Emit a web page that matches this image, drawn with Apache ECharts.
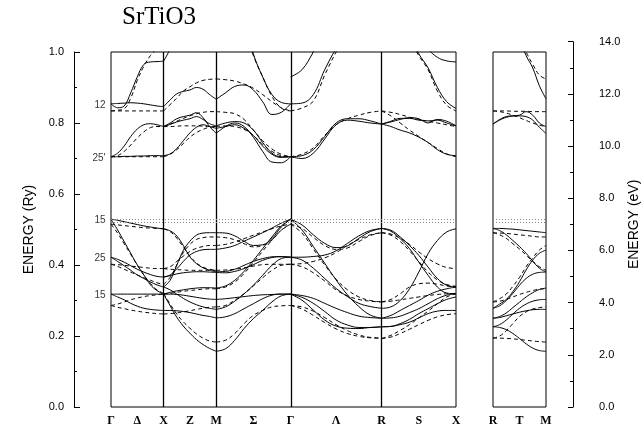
<!DOCTYPE html>
<html>
<head>
<meta charset="utf-8">
<title>SrTiO3</title>
<script src="https://cdn.jsdelivr.net/npm/echarts@6/dist/echarts.min.js"></script>
<style>
  html, body { margin: 0; padding: 0; background: #fff; }
  #chart { width: 643px; height: 429px; }
</style>
</head>
<body>
<div id="chart"></div>
<script>
// k path in units of 2pi/a : G-X-M-G-R-X, then R-T-M in the side panel
var mainTicks = [0, 0.25, 0.5, 0.75, 1.0, 1.3536, 1.7071, 2.1401, 2.5731, 2.9267, 3.2802];
var mainTickNames = ['Γ', 'Δ', 'X', 'Z', 'M', 'Σ', 'Γ', 'Λ', 'R', 'S', 'X'];
var sideTicks = [0, 0.25, 0.5];
var sideTickNames = ['R', 'T', 'M'];
var symLines = [0.5, 1.0, 1.7071, 2.5731];
var gapLines = [0.531, 0.517];
var gammaNames = ['12', "25'", '15', '25', '15'];
var gammaLevels = [0.851, 0.700, 0.527, 0.419, 0.315];

// band energies (Ry), 9 equally spaced samples over each segment
var gxSolid = [
  [0.854, 0.843, 0.848, 0.885, 0.930, 0.965, 0.972, 0.973, 0.974],
  [0.854, 0.855, 0.856, 0.857, 0.856, 0.854, 0.851, 0.848, 0.846],
  [0.705, 0.715, 0.735, 0.762, 0.783, 0.795, 0.798, 0.795, 0.790],
  [0.705, 0.705, 0.706, 0.706, 0.707, 0.707, 0.708, 0.708, 0.708],
  [0.529, 0.526, 0.522, 0.518, 0.514, 0.510, 0.507, 0.504, 0.502],
  [0.529, 0.499, 0.466, 0.433, 0.400, 0.372, 0.344, 0.328, 0.318],
  [0.422, 0.410, 0.398, 0.385, 0.372, 0.362, 0.352, 0.344, 0.338],
  [0.422, 0.416, 0.408, 0.398, 0.388, 0.380, 0.373, 0.368, 0.366],
  [0.318, 0.318, 0.318, 0.318, 0.318, 0.318, 0.318, 0.318, 0.318],
  [0.318, 0.310, 0.302, 0.292, 0.284, 0.278, 0.275, 0.273, 0.272]
];
var gxDashed = [
  [0.834, 0.836, 0.840, 0.870, 0.920, 0.960, 0.990, 1.010, 1.040],
  [0.834, 0.834, 0.834, 0.834, 0.834, 0.834, 0.834, 0.834, 0.834],
  [0.705, 0.708, 0.720, 0.738, 0.758, 0.775, 0.787, 0.790, 0.790],
  [0.705, 0.705, 0.705, 0.705, 0.705, 0.705, 0.705, 0.705, 0.705],
  [0.515, 0.513, 0.511, 0.509, 0.507, 0.505, 0.504, 0.503, 0.502],
  [0.515, 0.490, 0.460, 0.430, 0.400, 0.372, 0.348, 0.330, 0.320],
  [0.402, 0.401, 0.399, 0.397, 0.395, 0.393, 0.391, 0.390, 0.390],
  [0.402, 0.396, 0.388, 0.380, 0.372, 0.364, 0.357, 0.350, 0.345],
  [0.286, 0.290, 0.296, 0.302, 0.307, 0.311, 0.314, 0.316, 0.318],
  [0.286, 0.281, 0.277, 0.273, 0.270, 0.267, 0.265, 0.263, 0.262]
];
var xmSolid = [
  [0.974, 1.010, 1.070, 1.130, 1.180, 1.220, 1.250, 1.270, 1.280],
  [0.846, 0.865, 0.882, 0.889, 0.893, 0.900, 0.895, 0.880, 0.867],
  [0.790, 0.800, 0.812, 0.818, 0.822, 0.829, 0.815, 0.790, 0.771],
  [0.790, 0.796, 0.803, 0.808, 0.812, 0.818, 0.810, 0.798, 0.792],
  [0.708, 0.713, 0.728, 0.750, 0.772, 0.788, 0.795, 0.790, 0.785],
  [0.502, 0.496, 0.482, 0.455, 0.423, 0.404, 0.392, 0.385, 0.381],
  [0.338, 0.357, 0.399, 0.441, 0.467, 0.484, 0.490, 0.491, 0.491],
  [0.366, 0.372, 0.389, 0.410, 0.428, 0.438, 0.443, 0.444, 0.444],
  [0.366, 0.370, 0.375, 0.378, 0.380, 0.381, 0.381, 0.380, 0.379],
  [0.318, 0.323, 0.327, 0.330, 0.333, 0.335, 0.336, 0.336, 0.335],
  [0.318, 0.285, 0.253, 0.228, 0.208, 0.190, 0.176, 0.165, 0.157],
  [0.318, 0.318, 0.317, 0.315, 0.312, 0.309, 0.306, 0.304, 0.303],
  [0.272, 0.272, 0.271, 0.269, 0.266, 0.262, 0.258, 0.255, 0.251],
  [0.338, 0.330, 0.318, 0.306, 0.296, 0.288, 0.282, 0.278, 0.275]
];
var xmDashed = [
  [0.834, 0.852, 0.870, 0.890, 0.902, 0.913, 0.920, 0.923, 0.924],
  [0.790, 0.790, 0.791, 0.792, 0.792, 0.792, 0.791, 0.790, 0.790],
  [0.790, 0.797, 0.805, 0.813, 0.820, 0.826, 0.830, 0.832, 0.832],
  [0.705, 0.712, 0.725, 0.742, 0.760, 0.773, 0.782, 0.788, 0.790],
  [0.502, 0.494, 0.476, 0.450, 0.425, 0.406, 0.394, 0.388, 0.385],
  [0.345, 0.365, 0.400, 0.435, 0.458, 0.472, 0.477, 0.479, 0.479],
  [0.390, 0.395, 0.410, 0.425, 0.438, 0.447, 0.452, 0.455, 0.455],
  [0.390, 0.388, 0.387, 0.386, 0.385, 0.385, 0.385, 0.385, 0.385],
  [0.318, 0.320, 0.323, 0.326, 0.328, 0.330, 0.332, 0.333, 0.333],
  [0.320, 0.290, 0.262, 0.240, 0.222, 0.206, 0.194, 0.186, 0.183],
  [0.262, 0.263, 0.265, 0.268, 0.271, 0.275, 0.278, 0.281, 0.282]
];
var mgSolid = [
  [0.867, 0.885, 0.903, 0.907, 0.893, 0.860, 0.824, 0.830, 0.854],
  [1.500, 1.350, 1.200, 1.100, 0.995, 0.930, 0.880, 0.858, 0.854],
  [0.771, 0.790, 0.800, 0.790, 0.760, 0.720, 0.690, 0.688, 0.705],
  [0.792, 0.800, 0.804, 0.800, 0.780, 0.745, 0.715, 0.705, 0.705],
  [0.785, 0.790, 0.795, 0.785, 0.765, 0.735, 0.712, 0.703, 0.705],
  [0.491, 0.490, 0.482, 0.467, 0.455, 0.457, 0.474, 0.507, 0.529],
  [0.444, 0.448, 0.455, 0.467, 0.479, 0.491, 0.504, 0.518, 0.529],
  [0.381, 0.382, 0.388, 0.399, 0.410, 0.418, 0.423, 0.424, 0.422],
  [0.379, 0.378, 0.382, 0.390, 0.401, 0.413, 0.421, 0.423, 0.422],
  [0.335, 0.341, 0.357, 0.382, 0.413, 0.446, 0.479, 0.510, 0.529],
  [0.275, 0.282, 0.298, 0.319, 0.343, 0.371, 0.399, 0.418, 0.422],
  [0.251, 0.254, 0.263, 0.277, 0.291, 0.305, 0.315, 0.318, 0.318],
  [0.157, 0.164, 0.188, 0.221, 0.249, 0.272, 0.296, 0.313, 0.318],
  [0.303, 0.305, 0.308, 0.311, 0.314, 0.316, 0.317, 0.318, 0.318]
];
var mgDashed = [
  [0.924, 0.922, 0.918, 0.910, 0.898, 0.880, 0.860, 0.843, 0.834],
  [1.500, 1.330, 1.180, 1.070, 0.990, 0.930, 0.875, 0.842, 0.834],
  [0.832, 0.830, 0.826, 0.810, 0.780, 0.750, 0.727, 0.712, 0.705],
  [0.790, 0.792, 0.790, 0.782, 0.765, 0.740, 0.720, 0.708, 0.705],
  [0.479, 0.477, 0.471, 0.460, 0.451, 0.455, 0.470, 0.498, 0.515],
  [0.455, 0.458, 0.465, 0.474, 0.484, 0.493, 0.502, 0.510, 0.515],
  [0.385, 0.386, 0.388, 0.392, 0.397, 0.401, 0.402, 0.402, 0.402],
  [0.333, 0.338, 0.352, 0.376, 0.407, 0.439, 0.470, 0.498, 0.515],
  [0.282, 0.286, 0.301, 0.319, 0.341, 0.364, 0.385, 0.399, 0.402],
  [0.183, 0.188, 0.207, 0.235, 0.258, 0.272, 0.282, 0.285, 0.286]
];
var grSolid = [
  [0.930, 0.950, 1.000, 1.060, 1.120, 1.170, 1.200, 1.220, 1.230],
  [0.854, 0.856, 0.880, 0.950, 1.010, 1.060, 1.100, 1.130, 1.150],
  [0.705, 0.700, 0.715, 0.755, 0.795, 0.808, 0.805, 0.800, 0.797],
  [0.705, 0.708, 0.725, 0.762, 0.800, 0.812, 0.812, 0.806, 0.797],
  [0.529, 0.513, 0.485, 0.461, 0.449, 0.454, 0.475, 0.494, 0.503],
  [0.422, 0.422, 0.424, 0.428, 0.440, 0.461, 0.482, 0.497, 0.503],
  [0.529, 0.499, 0.452, 0.405, 0.358, 0.316, 0.283, 0.259, 0.250],
  [0.422, 0.414, 0.391, 0.362, 0.334, 0.311, 0.292, 0.283, 0.278],
  [0.318, 0.309, 0.292, 0.269, 0.245, 0.231, 0.224, 0.224, 0.226],
  [0.318, 0.301, 0.273, 0.245, 0.228, 0.222, 0.221, 0.224, 0.226],
  [0.318, 0.314, 0.306, 0.292, 0.278, 0.266, 0.256, 0.252, 0.250]
];
var grDashed = [
  [0.834, 0.842, 0.862, 0.935, 1.000, 1.060, 1.100, 1.130, 1.150],
  [0.705, 0.712, 0.730, 0.765, 0.795, 0.812, 0.822, 0.830, 0.834],
  [0.515, 0.503, 0.478, 0.455, 0.444, 0.448, 0.466, 0.483, 0.491],
  [0.402, 0.404, 0.410, 0.420, 0.435, 0.455, 0.472, 0.485, 0.491],
  [0.515, 0.490, 0.445, 0.400, 0.360, 0.330, 0.310, 0.300, 0.296],
  [0.402, 0.395, 0.378, 0.355, 0.330, 0.313, 0.303, 0.298, 0.296],
  [0.286, 0.282, 0.270, 0.252, 0.232, 0.215, 0.203, 0.196, 0.194],
  [0.286, 0.276, 0.258, 0.238, 0.220, 0.207, 0.199, 0.195, 0.194]
];
var rxSolid = [
  [1.300, 1.200, 1.120, 1.050, 0.995, 0.955, 0.900, 0.860, 0.841],
  [1.400, 1.300, 1.200, 1.120, 1.060, 1.010, 0.985, 0.975, 0.972],
  [0.797, 0.805, 0.813, 0.813, 0.808, 0.806, 0.808, 0.800, 0.792],
  [0.797, 0.803, 0.810, 0.815, 0.812, 0.800, 0.810, 0.805, 0.792],
  [0.797, 0.790, 0.780, 0.772, 0.760, 0.745, 0.725, 0.712, 0.708],
  [0.503, 0.498, 0.479, 0.455, 0.427, 0.394, 0.362, 0.343, 0.338],
  [0.503, 0.495, 0.474, 0.446, 0.408, 0.371, 0.338, 0.321, 0.319],
  [0.278, 0.282, 0.300, 0.333, 0.380, 0.432, 0.469, 0.493, 0.502],
  [0.250, 0.258, 0.272, 0.286, 0.300, 0.315, 0.326, 0.333, 0.338],
  [0.250, 0.251, 0.256, 0.266, 0.277, 0.291, 0.305, 0.315, 0.319],
  [0.226, 0.227, 0.235, 0.247, 0.263, 0.277, 0.291, 0.303, 0.310],
  [0.226, 0.227, 0.232, 0.239, 0.251, 0.263, 0.270, 0.272, 0.272]
];
var rxDashed = [
  [1.300, 1.200, 1.120, 1.040, 0.990, 0.950, 0.890, 0.850, 0.834],
  [0.834, 0.830, 0.824, 0.816, 0.810, 0.805, 0.800, 0.795, 0.790],
  [0.834, 0.820, 0.800, 0.780, 0.762, 0.745, 0.728, 0.713, 0.705],
  [0.491, 0.487, 0.475, 0.458, 0.437, 0.418, 0.403, 0.393, 0.390],
  [0.491, 0.484, 0.466, 0.440, 0.410, 0.380, 0.358, 0.345, 0.340],
  [0.296, 0.303, 0.319, 0.338, 0.347, 0.349, 0.346, 0.341, 0.338],
  [0.296, 0.298, 0.302, 0.306, 0.310, 0.314, 0.317, 0.319, 0.320],
  [0.193, 0.202, 0.216, 0.232, 0.251, 0.270, 0.291, 0.310, 0.319],
  [0.193, 0.197, 0.207, 0.219, 0.232, 0.244, 0.254, 0.260, 0.263]
];
var rmSolid = [
  [1.400, 1.300, 1.200, 1.100, 1.040, 0.990, 0.955, 0.905, 0.868],
  [0.797, 0.808, 0.816, 0.820, 0.822, 0.832, 0.822, 0.800, 0.790],
  [0.797, 0.810, 0.818, 0.820, 0.820, 0.818, 0.808, 0.788, 0.771],
  [0.503, 0.503, 0.502, 0.501, 0.499, 0.497, 0.495, 0.493, 0.491],
  [0.503, 0.497, 0.485, 0.469, 0.452, 0.433, 0.411, 0.391, 0.381],
  [0.278, 0.290, 0.303, 0.325, 0.353, 0.386, 0.414, 0.433, 0.442],
  [0.278, 0.285, 0.300, 0.320, 0.343, 0.362, 0.374, 0.379, 0.380],
  [0.250, 0.255, 0.265, 0.280, 0.295, 0.310, 0.322, 0.331, 0.335],
  [0.250, 0.252, 0.257, 0.262, 0.267, 0.271, 0.274, 0.275, 0.275],
  [0.226, 0.232, 0.245, 0.262, 0.278, 0.290, 0.298, 0.302, 0.303],
  [0.226, 0.224, 0.218, 0.207, 0.193, 0.178, 0.166, 0.159, 0.157]
];
var rmDashed = [
  [1.400, 1.300, 1.200, 1.100, 1.040, 1.000, 0.965, 0.935, 0.924],
  [0.834, 0.834, 0.834, 0.833, 0.833, 0.833, 0.832, 0.832, 0.832],
  [0.834, 0.832, 0.828, 0.822, 0.815, 0.807, 0.800, 0.794, 0.790],
  [0.491, 0.490, 0.489, 0.487, 0.485, 0.483, 0.481, 0.479, 0.479],
  [0.491, 0.485, 0.475, 0.460, 0.445, 0.428, 0.410, 0.395, 0.385],
  [0.296, 0.305, 0.318, 0.340, 0.365, 0.395, 0.420, 0.442, 0.455],
  [0.296, 0.298, 0.303, 0.310, 0.317, 0.323, 0.328, 0.332, 0.333],
  [0.194, 0.200, 0.215, 0.235, 0.255, 0.268, 0.276, 0.280, 0.282],
  [0.194, 0.194, 0.193, 0.192, 0.190, 0.188, 0.186, 0.184, 0.183]
];

var segments = [
  { grid: 0, k0: 0, k1: 0.5, solid: gxSolid, dashed: gxDashed },
  { grid: 0, k0: 0.5, k1: 1.0, solid: xmSolid, dashed: xmDashed },
  { grid: 0, k0: 1.0, k1: 1.7071, solid: mgSolid, dashed: mgDashed },
  { grid: 0, k0: 1.7071, k1: 2.5731, solid: grSolid, dashed: grDashed },
  { grid: 0, k0: 2.5731, k1: 3.2802, solid: rxSolid, dashed: rxDashed },
  { grid: 1, k0: 0, k1: 0.5, solid: rmSolid, dashed: rmDashed }
];

var RY_TO_EV = 13.6057;
var axisFont = 'Liberation Sans';

function bandSeries(seg, vals, dashed) {
  var n = vals.length - 1;
  return {
    type: 'line',
    xAxisIndex: seg.grid,
    yAxisIndex: seg.grid,
    data: vals.map(function (v, i) { return [seg.k0 + (seg.k1 - seg.k0) * i / n, v]; }),
    smooth: 0.4,
    symbol: 'none',
    silent: true,
    lineStyle: { color: '#000', width: 1, type: dashed ? [4, 3] : 'solid' },
    z: dashed ? 3 : 4
  };
}

function tickName(ticks, names) {
  return function (v) {
    for (var i = 0; i < ticks.length; i++) {
      if (Math.abs(ticks[i] - v) < 1e-6) return names[i];
    }
    return '';
  };
}

var series = [];
segments.forEach(function (seg) {
  seg.solid.forEach(function (b) { series.push(bandSeries(seg, b, false)); });
  seg.dashed.forEach(function (b) { series.push(bandSeries(seg, b, true)); });
});

// symmetry lines and the dotted gap lines
var gapStyle = { color: '#888', width: 1, type: [1, 2] };
series.push({
  type: 'line', xAxisIndex: 0, yAxisIndex: 0, data: [], silent: true,
  markLine: {
    symbol: 'none', silent: true, animation: false, label: { show: false },
    data: symLines.map(function (k) { return { xAxis: k, lineStyle: { color: '#000', width: 1.3, type: 'solid' } }; })
      .concat(gapLines.map(function (e) { return { yAxis: e, lineStyle: gapStyle }; }))
  }
});
series.push({
  type: 'line', xAxisIndex: 1, yAxisIndex: 1, data: [], silent: true,
  markLine: {
    symbol: 'none', silent: true, animation: false, label: { show: false },
    data: gapLines.map(function (e) { return { yAxis: e, lineStyle: gapStyle }; })
  }
});
// level labels at Gamma
series.push({
  type: 'scatter', xAxisIndex: 0, yAxisIndex: 0, clip: false, silent: true,
  symbolSize: 1, itemStyle: { color: 'rgba(0,0,0,0)' },
  data: gammaLevels.map(function (e, i) { return { value: [0, e], name: gammaNames[i] }; }),
  label: {
    show: true, position: 'left', distance: 5, formatter: '{b}',
    fontFamily: axisFont, fontSize: 10, color: '#000'
  }
});

var kLabelStyle = { fontFamily: 'Liberation Serif', fontWeight: 'bold', fontSize: 12, color: '#000', margin: 8 };

var option = {
  animation: false,
  backgroundColor: '#fff',
  title: {
    text: 'SrTiO3', left: 117, top: 0,
    textStyle: { fontFamily: 'Liberation Serif', fontSize: 25, fontWeight: 'normal', color: '#000' }
  },
  grid: [
    { left: 111, top: 52, width: 345, height: 355, show: true, borderColor: '#000', borderWidth: 1 },
    { left: 493, top: 52, width: 53, height: 355, show: true, borderColor: '#000', borderWidth: 1 },
    { left: 74, top: 52, width: 10, height: 355 },
    { left: 573, top: 407 - 355 * 14 / RY_TO_EV, width: 10, height: 355 * 14 / RY_TO_EV }
  ],
  xAxis: [
    {
      gridIndex: 0, type: 'value', min: 0, max: 3.2802,
      axisLine: { show: false }, axisTick: { show: false }, splitLine: { show: false },
      axisLabel: Object.assign({ customValues: mainTicks, formatter: tickName(mainTicks, mainTickNames) }, kLabelStyle)
    },
    {
      gridIndex: 1, type: 'value', min: 0, max: 0.5,
      axisLine: { show: false }, axisTick: { show: false }, splitLine: { show: false },
      axisLabel: Object.assign({ customValues: sideTicks, formatter: tickName(sideTicks, sideTickNames) }, kLabelStyle)
    },
    { gridIndex: 2, type: 'value', show: false },
    { gridIndex: 3, type: 'value', show: false }
  ],
  yAxis: [
    { gridIndex: 0, type: 'value', min: 0, max: 1, show: false },
    { gridIndex: 1, type: 'value', min: 0, max: 1, show: false },
    {
      gridIndex: 2, type: 'value', position: 'left', min: 0, max: 1, interval: 0.2,
      axisLine: { show: true, lineStyle: { color: '#000', width: 1 } },
      axisTick: { show: true, inside: true, length: 6, lineStyle: { color: '#000' } },
      minorTick: { show: true, splitNumber: 2, length: 3, lineStyle: { color: '#000' } },
      splitLine: { show: false },
      axisLabel: {
        margin: 10, fontFamily: axisFont, fontSize: 11, color: '#000',
        formatter: function (v) { return v.toFixed(1); }
      },
      name: 'ENERGY (Ry)', nameLocation: 'middle', nameGap: 38,
      nameTextStyle: { fontFamily: axisFont, fontSize: 14, color: '#000' }
    },
    {
      gridIndex: 3, type: 'value', position: 'right', min: 0, max: 14, interval: 2,
      axisLine: { show: true, lineStyle: { color: '#000', width: 1 } },
      axisTick: { show: true, inside: true, length: 5, lineStyle: { color: '#000' } },
      minorTick: { show: true, splitNumber: 2, length: 3, lineStyle: { color: '#000' } },
      splitLine: { show: false },
      axisLabel: {
        margin: 16, fontFamily: axisFont, fontSize: 11, color: '#000',
        formatter: function (v) { return v.toFixed(1); }
      },
      name: 'ENERGY (eV)', nameLocation: 'middle', nameGap: 44, nameRotate: 90,
      nameTextStyle: { fontFamily: axisFont, fontSize: 14, color: '#000' }
    }
  ],
  series: series
};

var chart = echarts.init(document.getElementById('chart'), null, { renderer: 'canvas' });
chart.setOption(option);
</script>
</body>
</html>
